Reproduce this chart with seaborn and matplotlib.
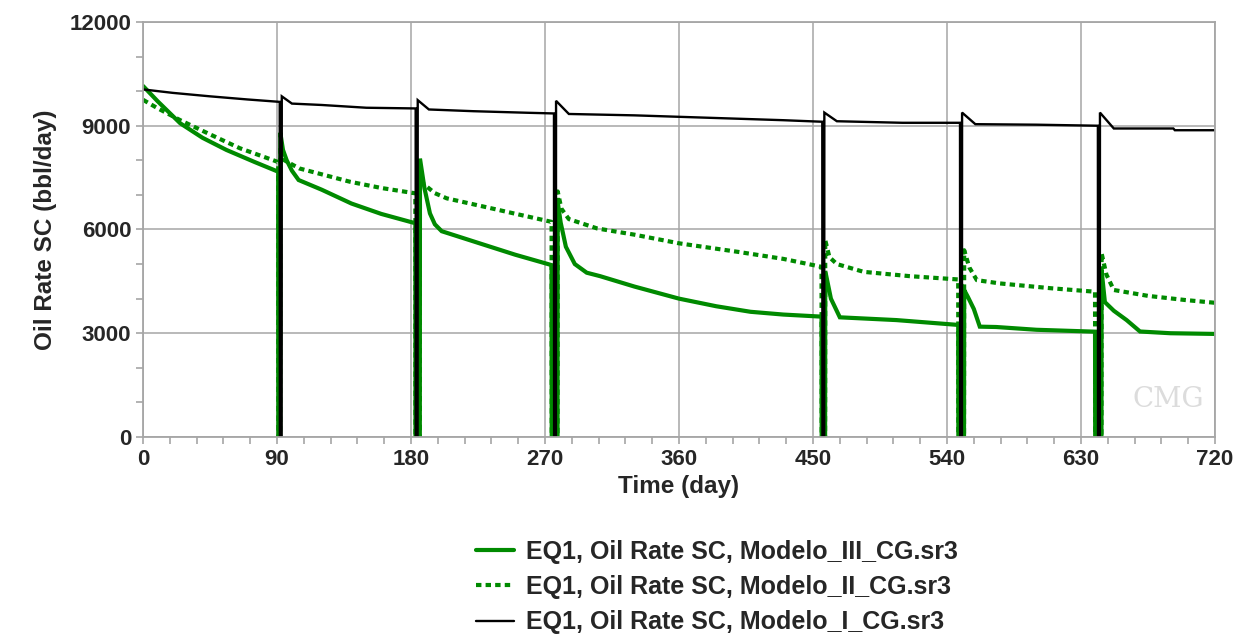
"""
Oil rate SC for the three CMG models (EQ1 well), 0-720 days.
"""
import numpy as np
import pandas as pd
import matplotlib
matplotlib.use("Agg")
import matplotlib.pyplot as plt
from matplotlib.ticker import MultipleLocator
import seaborn as sns

# ---- data (time in days, rate in bbl/day) ----
III_T = [0, 10, 25, 40, 56, 75, 90.8, 90.9, 92.1, 92.2, 94, 96.5, 100, 104.5,
         120, 140, 160, 182.9, 183.0, 185.9, 186.0, 189, 192.7, 196, 200.6,
         226, 250, 274.4, 274.5, 278.4, 278.5, 280.5, 284, 290, 298, 307, 330,
         360, 385, 408, 430, 455.7, 455.8, 458.1, 458.2, 462, 468, 506, 547.5,
         547.6, 551.4, 551.5, 554, 558, 562, 573, 600, 639.4, 639.5, 643.7,
         643.8, 646, 652, 660.6, 669.6, 690, 720]
III_Q = [10150, 9700, 9070, 8650, 8300, 7950, 7670, 0, 0, 8800, 8300, 8000,
         7700, 7430, 7150, 6750, 6450, 6180, 0, 0, 8050, 7200, 6465, 6150,
         5950, 5600, 5270, 4970, 0, 0, 6800, 6200, 5500, 5000, 4750, 4650,
         4350, 4000, 3780, 3620, 3540, 3480, 0, 0, 4800, 4000, 3460, 3380,
         3240, 0, 0, 4250, 4050, 3700, 3190, 3180, 3100, 3045, 0, 0, 4825,
         3900, 3650, 3380, 3050, 3000, 2980]

II_T = [0, 10, 25, 45, 65, 90.8, 90.9, 92.1, 92.2, 95, 105, 139, 160, 182.9,
        183.0, 185.9, 186.0, 188, 196, 204, 230, 249, 274.4, 274.5, 278.4,
        278.5, 281, 286, 305, 330, 360, 400, 430, 455.7, 455.8, 458.1, 458.2,
        461, 466, 484, 515, 547.5, 547.6, 551.4, 551.5, 555, 560, 575.5, 610,
        639.4, 639.5, 643.7, 643.8, 647, 652, 675, 700, 720]
II_Q = [9750, 9500, 9160, 8750, 8350, 7950, 0, 0, 8400, 8000, 7765, 7380,
        7200, 7045, 0, 0, 7550, 7330, 7050, 6900, 6650, 6465, 6220, 0, 0,
        7100, 6600, 6300, 6030, 5850, 5600, 5350, 5150, 4920, 0, 0, 5690,
        5200, 5000, 4775, 4650, 4555, 0, 0, 5400, 4900, 4535, 4440, 4300,
        4200, 0, 0, 5310, 4700, 4250, 4080, 3960, 3880]

I_T = [0, 20, 45, 70, 91.8, 91.9, 93.1, 93.2, 100, 120, 150, 183.1, 183.2,
       184.4, 184.5, 192, 222, 258, 276.0, 276.1, 277.3, 277.4, 286, 330, 380,
       430, 456.2, 456.3, 457.5, 457.6, 466, 510, 548.7, 548.8, 550.0, 550.1,
       559, 600, 641.3, 641.4, 642.6, 642.7, 652, 692, 693, 720]
I_Q = [10050, 9950, 9850, 9760, 9690, 0, 0, 9850, 9640, 9600, 9520, 9500, 0,
       0, 9740, 9470, 9420, 9375, 9355, 0, 0, 9720, 9340, 9300, 9230, 9160,
       9115, 0, 0, 9380, 9130, 9085, 9085, 0, 0, 9380, 9045, 9030, 9000, 0, 0,
       9380, 8920, 8920, 8870, 8870]

LABELS = ["EQ1, Oil Rate SC, Modelo_III_CG.sr3",
          "EQ1, Oil Rate SC, Modelo_II_CG.sr3",
          "EQ1, Oil Rate SC, Modelo_I_CG.sr3"]

X_TICKS = [0, 90, 180, 270, 360, 450, 540, 630, 720]
Y_TICKS = [0, 3000, 6000, 9000, 12000]

GREEN = "#008a00"
GRID = "#a6a6a6"

sns.set_style("ticks")
plt.rcParams["font.family"] = ["Liberation Sans", "DejaVu Sans"]
plt.rcParams["font.weight"] = "bold"

fig = plt.figure(figsize=(12.48, 6.37), dpi=100)
ax = fig.add_axes([0.1146, 0.314, 0.859, 0.6515])

series = [
    (III_T, III_Q, LABELS[0], dict(color=GREEN, linewidth=3.0, linestyle="-")),
    (II_T, II_Q, LABELS[1], dict(color=GREEN, linewidth=3.0, linestyle=(0, (1.3, 1.0)))),
    (I_T, I_Q, LABELS[2], dict(color="black", linewidth=1.7, linestyle="-")),
]
for t, q, label, style in series:
    assert len(t) == len(q), label
    df = pd.DataFrame({"t": t, "q": q})
    sns.lineplot(data=df, x="t", y="q", ax=ax, label=label, sort=False,
                 estimator=None, solid_joinstyle="miter", **style)

ax.set_xlim(0, 720)
ax.set_ylim(0, 12000)
ax.set_xticks(X_TICKS)
ax.set_yticks(Y_TICKS)
ax.xaxis.set_minor_locator(MultipleLocator(18))
ax.yaxis.set_minor_locator(MultipleLocator(1000))
ax.grid(True, which="major", color=GRID, linewidth=1.1)
ax.set_axisbelow(True)
for s in ax.spines.values():
    s.set_color(GRID)
    s.set_linewidth(1.3)
ax.tick_params(which="both", color=GRID, length=5, width=1.2, labelsize=16,
               direction="out")
for lab in ax.get_xticklabels() + ax.get_yticklabels():
    lab.set_fontweight("bold")

ax.set_xlabel("Time (day)", fontsize=17.5, fontweight="bold", labelpad=4)
ax.set_ylabel("Oil Rate SC (bbl/day)", fontsize=17.5, fontweight="bold", labelpad=9)

# CMG watermark
ax.text(0.99, 0.09, "CMG", transform=ax.transAxes, ha="right", va="center",
        fontsize=20, color="#dcdcdc", family="DejaVu Serif", fontweight="normal")

handles, labels = ax.get_legend_handles_labels()
ax.get_legend().remove()
fig.legend(handles, labels, loc="upper left", bbox_to_anchor=(0.371, 0.172),
           frameon=False, borderpad=0, handlelength=1.55, handletextpad=0.45,
           labelspacing=0.45, prop={"weight": "bold", "size": 18})

fig.savefig("out.png", dpi=100)
